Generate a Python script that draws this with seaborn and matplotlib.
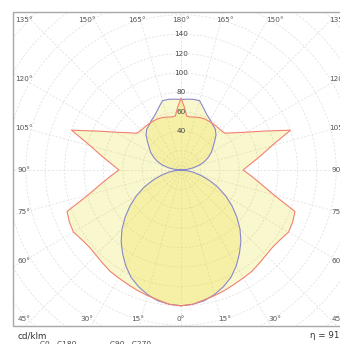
# Polar light distribution diagram (cd/klm), C0-C180 and C90-C270 planes
import numpy as np
import pandas as pd
import matplotlib
matplotlib.use("Agg")
import matplotlib.pyplot as plt
from matplotlib.patches import Rectangle, Circle
import seaborn as sns

# ==========================
# Data (gamma angle in degrees, 0 = straight down)
# ==========================
gamma = [0, 5, 10, 15, 20, 25, 30, 35, 40, 45, 50, 55, 60, 65, 70, 75, 80, 85, 90,
         95, 100, 105, 110, 115, 120, 125, 130, 135, 140, 145, 150, 155, 160, 165,
         170, 174, 177, 180]

c0_c180 = [140, 139, 137, 133, 128, 122, 114, 105, 96, 86, 75, 64, 53, 42, 31, 21, 13, 5, 0,
           6, 13, 20, 26, 31, 36, 40, 45, 51, 55, 57, 60, 63, 68, 74,
           74, 73.5, 73, 73]

c90_c270 = [140, 139, 136, 134, 132, 130, 128.5, 127.5, 125.5, 124, 123.5, 125, 128, 127, 125, 99, 84, 73, 64,
            72, 83, 97, 120, 95, 78, 67, 59, 58, 58, 58, 58, 58, 57.5, 56.5,
            55.5, 56, 65, 74]

radial_ticks = [40, 60, 80, 100, 120, 140]
angle_ticks = [0, 15, 30, 45, 60, 75, 90, 105, 120, 135, 150, 165, 180]

curve_names = ["C0 - C180", "C90 - C270"]
line_colors = {"C0 - C180": "#8888cc", "C90 - C270": "#f28070"}
fill_color = "#e8db1c"


def to_xy(angles, values):
    # right half going up, then left half coming back down
    a = np.radians(angles)
    r = np.array(values, dtype=float)
    xr, yr = r * np.sin(a), -r * np.cos(a)
    x = np.concatenate([xr, -xr[::-1]])
    y = np.concatenate([yr, yr[::-1]])
    return x, y


frames = []
for name, vals in zip(curve_names, [c0_c180, c90_c270]):
    x, y = to_xy(gamma, vals)
    frames.append(pd.DataFrame({"x": x, "y": y, "curve": name}))
df = pd.concat(frames, ignore_index=True)

# ==========================
# Plot
# ==========================
sns.set_theme(style="white")
plt.rcParams["font.family"] = ["DejaVu Sans"]

fig = plt.figure(figsize=(3.4, 3.44), dpi=100)
ax = fig.add_axes([0, 0, 1, 1])
ax.axis("off")

# frame
frame = Rectangle((-173.2, -160.8), 346.4, 323.7, fill=False, ec="#a8a8a8", lw=1.0, zorder=5)
ax.add_patch(frame)

# dashed polar grid clipped to the frame
for rr in range(20, 260, 20):
    c = Circle((0, 0), rr, fill=False, ec="#e2e2e2", lw=0.6, ls=(0, (2.5, 2)), zorder=1)
    ax.add_patch(c)
    c.set_clip_path(frame)
for a in range(0, 360, 15):
    ln, = ax.plot([0, 320 * np.sin(np.radians(a))], [0, -320 * np.cos(np.radians(a))],
                  color="#e2e2e2", lw=0.6, ls=(0, (2.5, 2)), zorder=1)
    ln.set_clip_path(frame)

# fills then outlines
for name in curve_names:
    sub = df[df["curve"] == name]
    ax.fill(sub["x"], sub["y"], color=fill_color, alpha=0.22, lw=0, zorder=2)

sns.lineplot(data=df, x="x", y="y", hue="curve", palette=line_colors, sort=False,
             estimator=None, legend=False, lw=0.8, ax=ax, zorder=3)
ax.set_xlim(-186.6, 163.9)
ax.set_ylim(-179.4, 175.3)
ax.axis("off")

# radial value labels
for v in radial_ticks:
    ax.text(0, v, str(v), ha="center", va="center", fontsize=5.2, color="#444444", zorder=4)

# angle labels around the frame
for a in angle_ticks:
    s, c = np.sin(np.radians(a)), np.cos(np.radians(a))
    if abs(c) >= s - 1e-9:
        ly = -153.6 if c > 0 else 154.6
        lx = min(168 * s / abs(c), 162)
    else:
        lx = 162
        ly = -162 * c / s
    sides = [1] if a in (0, 180) else [-1, 1]
    for side in sides:
        ax.text(side * lx, ly, f"{a}°", ha="center", va="center", fontsize=5.2,
                color="#555555", zorder=4)

# captions below the frame
ax.text(-169, -171, "cd/klm", ha="left", va="center", fontsize=6.3, color="#333333")
ax.text(133, -171, "η = 91%", ha="left", va="center", fontsize=6.3, color="#333333")
ax.text(-145, -175.8, curve_names[0], ha="left", va="top", fontsize=5.3, color="#444444")
ax.text(-73, -175.8, curve_names[1], ha="left", va="top", fontsize=5.3, color="#444444")

fig.savefig("out.png", dpi=100)
